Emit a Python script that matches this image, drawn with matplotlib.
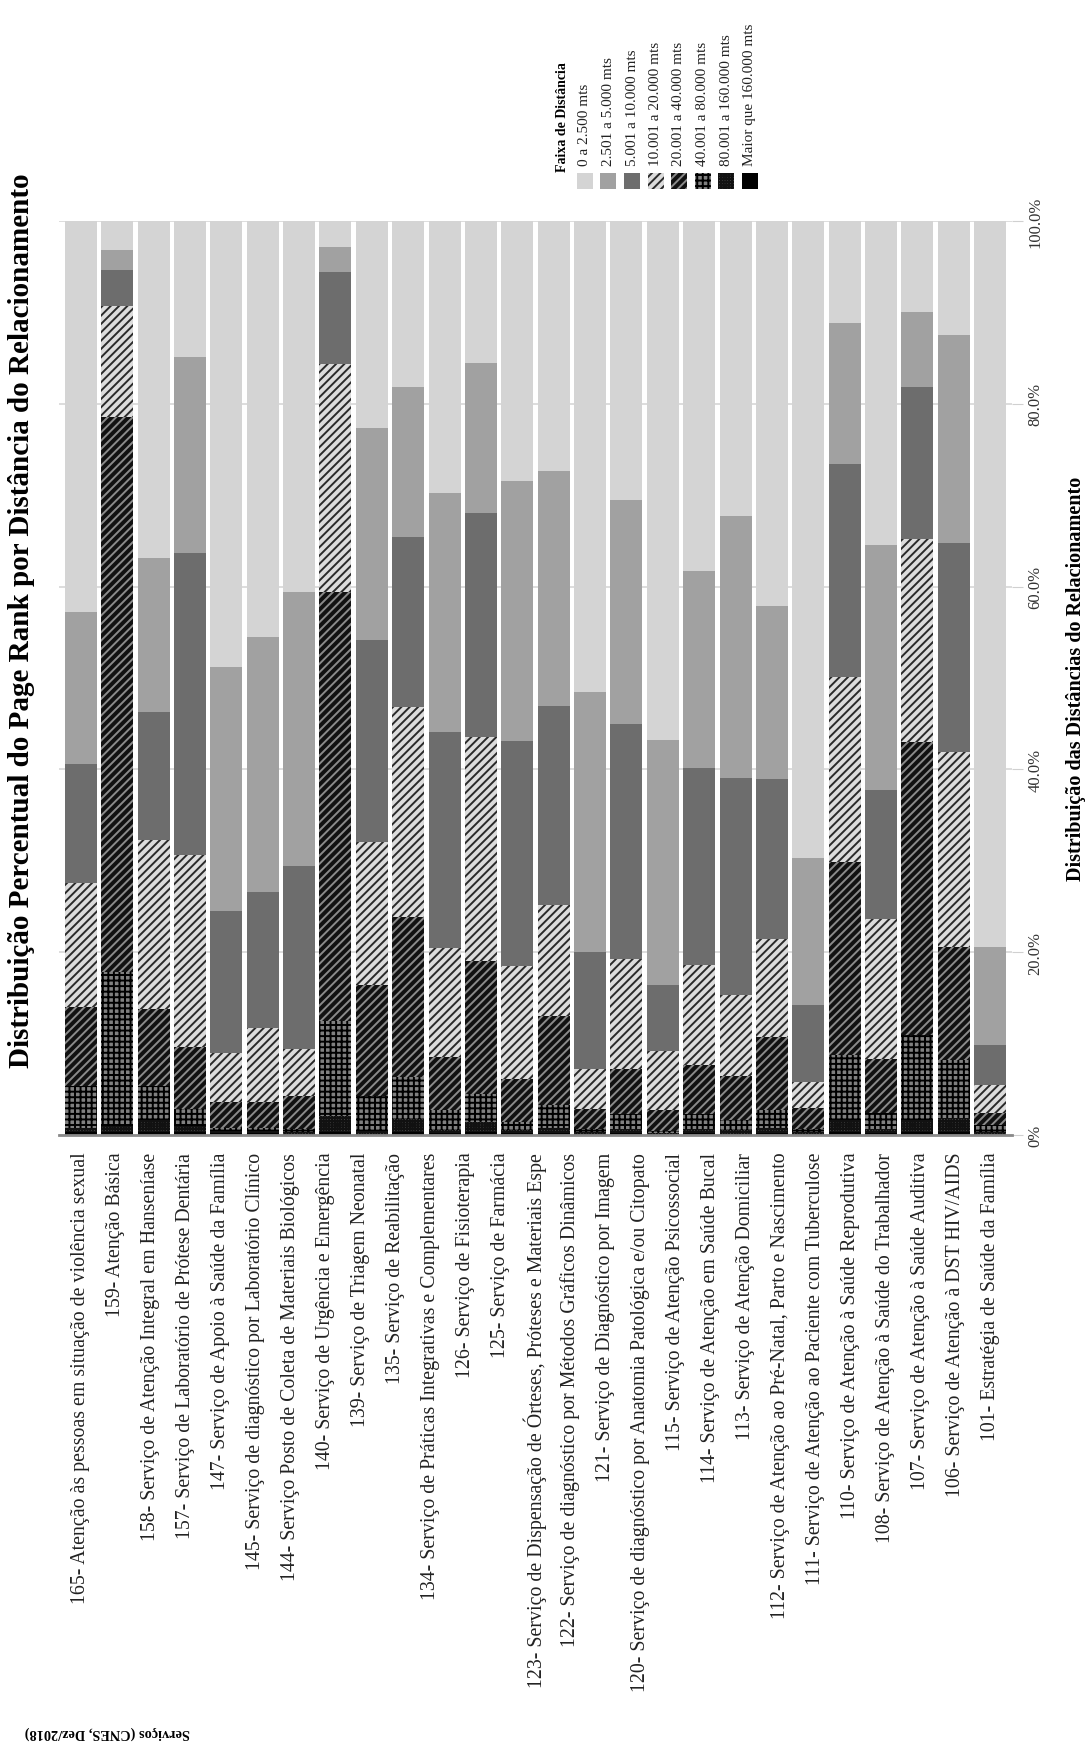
import numpy as np
import matplotlib.pyplot as plt
from matplotlib.patches import Rectangle

plt.rcParams['font.family'] = ['Liberation Serif', 'DejaVu Serif']
plt.rcParams['hatch.linewidth'] = 1.4

W, H = 1085, 1749

# rótulos do eixo de serviços (27 rótulos para 26 barras, como no original)
servicos = [
    '165- Atenção às pessoas em situação de violência sexual',
    '159- Atenção Básica',
    '158- Serviço de Atenção Integral em Hanseníase',
    '157- Serviço de Laboratório de Prótese Dentária',
    '147- Serviço de Apoio à Saúde da Família',
    '145- Serviço de diagnóstico por Laboratório Clínico',
    '144- Serviço Posto de Coleta de Materiais Biológicos',
    '140- Serviço de Urgência e Emergência',
    '139- Serviço de Triagem Neonatal',
    '135- Serviço de Reabilitação',
    '134- Serviço de Práticas Integrativas e Complementares',
    '126- Serviço de Fisioterapia',
    '125- Serviço de Farmácia',
    '123- Serviço de Dispensação de Órteses, Próteses e Materiais Espe',
    '122- Serviço de diagnóstico por Métodos Gráficos Dinâmicos',
    '121- Serviço de Diagnóstico por Imagem',
    '120- Serviço de diagnóstico por Anatomia Patológica e/ou Citopato',
    '115- Serviço de Atenção Psicossocial',
    '114- Serviço de Atenção em Saúde Bucal',
    '113- Serviço de Atenção Domiciliar',
    '112- Serviço de Atenção ao Pré-Natal, Parto e Nascimento',
    '111- Serviço de Atenção ao Paciente com Tuberculose',
    '110- Serviço de Atenção à Saúde Reprodutiva',
    '108- Serviço de Atenção à Saúde do Trabalhador',
    '107- Serviço de Atenção à Saúde Auditiva',
    '106- Serviço de Atenção à DST HIV/AIDS',
    '101- Estratégia de Saúde da Família',
]

faixas = ['0 a 2.500 mts', '2.501 a 5.000 mts', '5.001 a 10.000 mts',
          '10.001 a 20.000 mts', '20.001 a 40.000 mts', '40.001 a 80.000 mts',
          '80.001 a 160.000 mts', 'Maior que 160.000 mts']

# percentual por faixa, uma posição por barra (da esquerda para a direita)
d0_2500 = [42.8, 3.2, 36.9, 14.9, 48.8, 45.5, 40.6, 2.8, 22.7, 18.2, 29.8, 15.5, 28.5,
           27.3, 51.5, 30.5, 56.8, 38.3, 32.3, 42.1, 69.7, 11.2, 35.5, 10.0, 12.5, 79.4]
d2501_5000 = [16.6, 2.2, 16.8, 21.4, 26.7, 27.9, 30.0, 2.8, 23.1, 16.4, 26.1, 16.4, 28.4,
              25.8, 28.5, 24.5, 26.8, 21.5, 28.6, 19.0, 16.1, 15.4, 26.7, 8.2, 22.7, 10.8]
d5001_10000 = [13.0, 3.9, 14.0, 33.1, 15.5, 14.9, 20.0, 10.1, 22.1, 18.6, 23.6, 24.6, 24.6,
               21.7, 12.8, 25.7, 7.2, 21.6, 23.8, 17.5, 8.4, 23.3, 14.2, 16.6, 22.9, 4.3]
d10001_20000 = [13.6, 12.1, 18.5, 21.0, 5.4, 8.1, 5.1, 24.9, 15.7, 23.0, 12.0, 24.5, 12.4,
                12.2, 4.4, 12.1, 6.5, 10.9, 8.8, 10.7, 2.9, 20.2, 15.3, 22.2, 21.3, 3.1]
d20001_40000 = [8.6, 60.8, 8.4, 6.8, 2.8, 2.8, 3.6, 46.9, 12.1, 17.5, 5.8, 14.5, 4.7,
                9.7, 2.1, 4.9, 2.3, 5.4, 4.9, 8.0, 2.2, 21.2, 5.9, 32.1, 12.4, 1.3]
d40001_80000 = [4.6, 16.8, 3.8, 1.8, 0.4, 0.4, 0.4, 10.4, 3.9, 4.55, 2.1, 3.1, 0.8,
                2.5, 0.4, 1.6, 0.2, 1.6, 1.1, 1.9, 0.4, 7.1, 1.7, 9.3, 6.3, 0.8]
d80001_160000 = [0.5, 0.7, 1.3, 0.7, 0.2, 0.2, 0.2, 1.8, 0.3, 1.45, 0.4, 1.1, 0.4,
                 0.6, 0.2, 0.5, 0.1, 0.5, 0.4, 0.6, 0.2, 1.3, 0.5, 1.3, 1.6, 0.2]
maior_160000 = [0.3, 0.3, 0.3, 0.3, 0.2, 0.2, 0.1, 0.3, 0.1, 0.3, 0.2, 0.3, 0.2,
                0.2, 0.1, 0.2, 0.1, 0.2, 0.1, 0.2, 0.1, 0.3, 0.2, 0.3, 0.3, 0.1]

series = [d0_2500, d2501_5000, d5001_10000, d10001_20000,
          d20001_40000, d40001_80000, d80001_160000, maior_160000]

# (cor de fundo, hachura, cor da hachura) para cada faixa
estilos = [
    ('#d4d4d4', None, '#d4d4d4'),
    ('#a1a1a1', None, '#a1a1a1'),
    ('#6d6d6d', None, '#6d6d6d'),
    ('#dcdcdc', '////', '#2a2a2a'),
    ('#111111', '////', '#8a8a8a'),
    ('#808080', '+++', '#000000'),
    ('#5a5a5a', '++++++', '#111111'),
    ('#000000', None, '#000000'),
]

fig = plt.figure(figsize=(W / 100, H / 100), dpi=100)
ax = fig.add_axes([59 / W, (H - 1136) / H, (1012 - 59) / W, (1136 - 222) / H])

x = np.arange(len(d0_2500))
bottom = np.zeros(len(x))
# empilha de baixo (maior distância) para cima
for vals, (fc, hatch, hc) in reversed(list(zip(series, estilos))):
    vals = np.array(vals)
    ax.bar(x, vals, width=0.88, bottom=bottom, color=fc, edgecolor=hc,
           hatch=hatch, linewidth=0, zorder=2)
    bottom += vals

ax.set_xlim(-0.6, 25.6)
ax.set_ylim(0, 100)
ax.set_yticks([0, 20, 40, 60, 80, 100])
ax.set_yticklabels(['0%', '20.0%', '40.0%', '60.0%', '80.0%', '100.0%'])
ax.yaxis.tick_right()
ax.tick_params(axis='y', length=8, color='#d0d0d0', pad=3, labelsize=12,
               labelcolor='#333333', labelrotation=90)
for lbl in ax.get_yticklabels():
    lbl.set_va('center')
ax.yaxis.grid(True, color='#dadada', linewidth=1.3, zorder=0)
ax.set_axisbelow(True)

ax.set_xticks(np.linspace(0, 25, len(servicos)))
ax.set_xticklabels(servicos, rotation=90, fontsize=14.3, color='#222222')
ax.tick_params(axis='x', length=0, pad=12)

for s in ['top', 'left', 'right']:
    ax.spines[s].set_visible(False)
ax.spines['bottom'].set_color('#8a8a8a')
ax.spines['bottom'].set_linewidth(2)
ax.spines['bottom'].set_zorder(3)

fig.text(22 / W, 1 - 621 / H,
         'Distribuição Percentual do Page Rank por Distância do Relacionamento',
         rotation=90, ha='center', va='center', fontsize=21, fontweight='bold')
fig.text(1076 / W, 1 - 679 / H, 'Distribuição das Distâncias do Relacionamento',
         rotation=90, ha='center', va='center', fontsize=14.5, fontweight='bold')
fig.text(107 / W, 1 - 1733 / H, 'Serviços (CNES, Dez/2018)',
         rotation=180, ha='center', va='center', fontsize=10.3, fontweight='bold')

# legenda desenhada à mão, girada como o restante do gráfico
fig.text(562 / W, 1 - 172 / H, 'Faixa de Distância', rotation=90, ha='center',
         va='bottom', fontsize=10, fontweight='bold')
for i, (nome, (fc, hatch, hc)) in enumerate(zip(faixas, estilos)):
    cx = 585 + i * 23.5
    fig.add_artist(Rectangle(((cx - 8) / W, 1 - 190 / H), 16 / W, 16 / H,
                             transform=fig.transFigure, facecolor=fc,
                             edgecolor=hc, hatch=hatch, linewidth=0))
    fig.text(cx / W, 1 - 166 / H, nome, rotation=90, ha='center', va='bottom',
             fontsize=11, color='#222222')

fig.savefig('out.png', dpi=100)
